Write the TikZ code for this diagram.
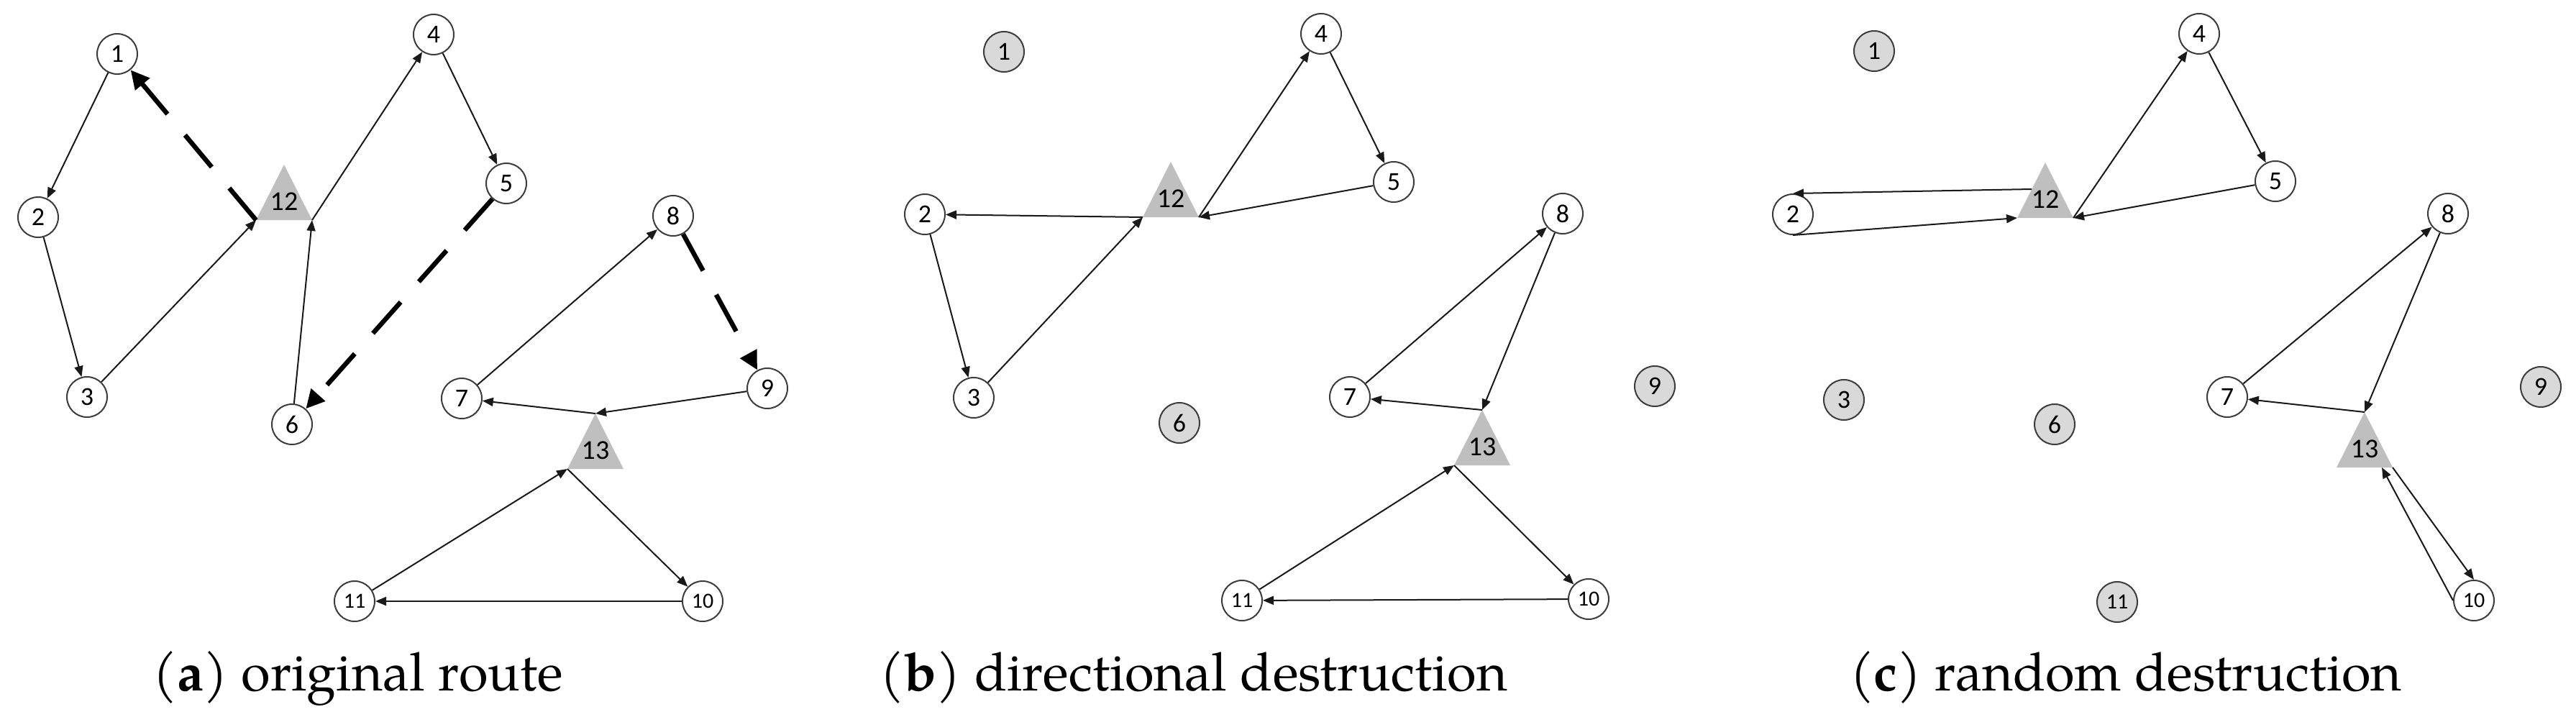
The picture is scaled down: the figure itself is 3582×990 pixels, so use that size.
\documentclass[tikz,border=0pt]{standalone}
\usepackage{fontspec}
\newfontfamily\labfont{Carlito}
\newfontfamily\capfont{texgyrepagella}[Extension=.otf,UprightFont=*-regular,BoldFont=*-bold]
\usetikzlibrary{arrows.meta}
\definecolor{trigray}{RGB}{191,191,191}
\definecolor{cgray}{RGB}{217,217,217}
\definecolor{cborder}{RGB}{60,60,60}
\definecolor{edgecol}{RGB}{25,25,25}
\tikzset{
 cnode/.style={circle,draw=cborder,line width=2pt,fill=white,minimum size=56pt,inner sep=0pt,font=\labfont\fontsize{36}{36}\selectfont},
 rnode/.style={cnode,fill=cgray},
 smalllab/.style={font=\labfont\fontsize{30}{30}\selectfont},
 edge/.style={draw=edgecol,line width=2pt,-{Triangle[length=15pt,width=12pt]}},
 cut/.style={draw=black,line width=6.5pt,dash pattern=on 58pt off 38pt,-{Triangle[length=26pt,width=25pt]}},
 trilab/.style={font=\labfont\fontsize{38}{38}\selectfont,inner sep=0pt},
 caption/.style={font=\capfont\fontsize{74}{74}\selectfont,anchor=base,inner sep=0pt}
}
\newcommand{\depot}[4]{%
 \fill[trigray] (#2,#3) -- (#2-39,#3+77) -- (#2+39,#3+77) -- cycle;
 \coordinate (#1a) at (#2,#3);
 \coordinate (#1l) at (#2-39,#3+77);
 \coordinate (#1r) at (#2+39,#3+77);
 \coordinate (#1s) at (#2-19,#3+37);
 \coordinate (#1b) at (#2+24,#3+77);
 \node[trilab] (#1) at (#2,#3+51) {#4};
}
\begin{document}
\begin{tikzpicture}[x=1pt,y=-1pt]
\useasboundingbox (0,0) rectangle (3582,990);

% ---------- panel (a) ----------
\depot{a12}{395}{229}{12}
\depot{a13}{828}{575}{13}
\node[cnode] (a1) at (163,75) {1};
\node[cnode] (a2) at (53,302) {2};
\node[cnode] (a3) at (121,552) {3};
\node[cnode] (a4) at (603,48) {4};
\node[cnode] (a5) at (704,255) {5};
\node[cnode] (a6) at (406,590) {6};
\node[cnode] (a7) at (642,554) {7};
\node[cnode] (a8) at (936,300) {8};
\node[cnode] (a9) at (1067,540) {9};
\node[cnode,smalllab] (a10) at (977,836) {10};
\node[cnode,smalllab] (a11) at (493,836) {11};
\draw[edge] (a1) -- (a2);
\draw[edge] (a2) -- (a3);
\draw[edge] (a3) -- (a12l);
\draw[cut] (a12l) -- (a1);
\draw[edge] (a12r) -- (a4);
\draw[edge] (a4) -- (a5);
\draw[cut] (a5) -- (a6);
\draw[edge] (a6) -- (a12r);
\draw[edge] (a7) -- (a8);
\draw[cut] (a8) -- (a9);
\draw[edge] (a9) -- (a13a);
\draw[edge] (a13a) -- (a7);
\draw[edge] (a13l) -- (a10);
\draw[edge] (a10) -- (a11);
\draw[edge] (a11) -- (a13l);
\node[caption] (capa) at (498,960) {(\textbf{a}) original route};

% ---------- panel (b) ----------
\depot{b12}{1628}{225}{12}
\depot{b13}{2061}{570}{13}
\node[rnode] (b1) at (1396,72) {1};
\node[cnode] (b2) at (1286,298) {2};
\node[cnode] (b3) at (1354,553) {3};
\node[cnode] (b4) at (1837,47) {4};
\node[cnode] (b5) at (1938,253) {5};
\node[rnode] (b6) at (1640,588) {6};
\node[cnode] (b7) at (1877,552) {7};
\node[cnode] (b8) at (2173,297) {8};
\node[rnode] (b9) at (2301,537) {9};
\node[cnode,smalllab] (b10) at (2209,833) {10};
\node[cnode,smalllab] (b11) at (1727,835) {11};
\draw[edge] (b12l) -- (b2);
\draw[edge] (b2) -- (b3);
\draw[edge] (b3) -- (b12l);
\draw[edge] (b12r) -- (b4);
\draw[edge] (b4) -- (b5);
\draw[edge] (b5) -- (b12r);
\draw[edge] (b7) -- (b8);
\draw[edge] (b8) -- (b13a);
\draw[edge] (b13a) -- (b7);
\draw[edge] (b13l) -- (b10);
\draw[edge] (b10) -- (b11);
\draw[edge] (b11) -- (b13l);
\node[caption] (capb) at (1660,960) {(\textbf{b}) directional destruction};

% ---------- panel (c) ----------
\depot{c12}{2844}{226}{12}
\depot{c13}{3288}{573}{13}
\node[rnode] (c1) at (2606,71) {1};
\node[cnode] (c2) at (2493,298) {2};
\node[rnode] (c3) at (2564,556) {3};
\node[cnode] (c4) at (3058,47) {4};
\node[cnode] (c5) at (3164,252) {5};
\node[rnode] (c6) at (2857,590) {6};
\node[cnode] (c7) at (3097,552) {7};
\node[cnode] (c8) at (3404,297) {8};
\node[rnode] (c9) at (3533,538) {9};
\node[cnode,smalllab] (c10) at (3440,835) {10};
\node[rnode,smalllab] (c11) at (2944,837) {11};
\draw[edge] (c12s) -- (c2.north);
\draw[edge] (c2.south) -- (c12l);
\draw[edge] (c12r) -- (c4);
\draw[edge] (c4) -- (c5);
\draw[edge] (c5) -- (c12r);
\draw[edge] (c7) -- (c8);
\draw[edge] (c8) -- (c13a);
\draw[edge] (c13a) -- (c7);
\draw[edge] (c13r) -- (c10.north);
\draw[edge] (c10.west) -- (c13b);
\node[caption] (capc) at (2956,960) {(\textbf{c}) random destruction};
\end{tikzpicture}
\end{document}
